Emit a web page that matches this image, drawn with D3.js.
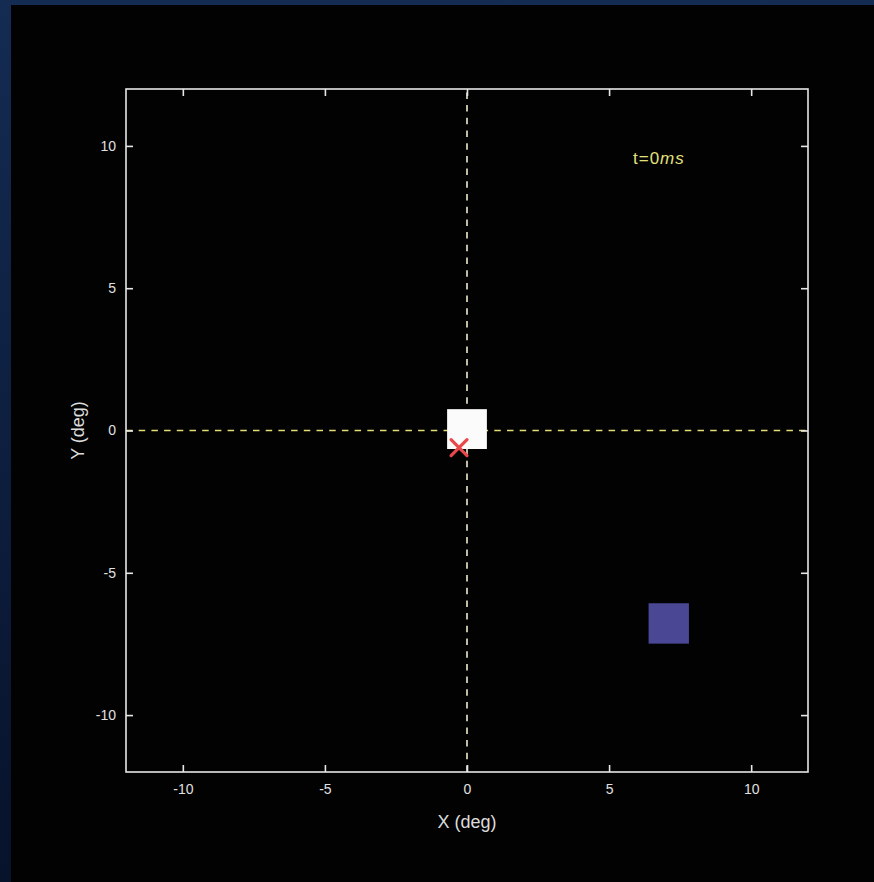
<!DOCTYPE html>
<html>
<head>
<meta charset="utf-8">
<script src="https://cdn.jsdelivr.net/npm/d3@7"></script>
<style>
html,body{margin:0;padding:0;background:#0b1733;}
svg{display:block;}
</style>
</head>
<body>
<svg id="chart" width="874" height="882"></svg>
<script>
// ---- data ----
const xDomain = [-12, 12];
const yDomain = [-12, 12];
const xTicks = [-10, -5, 0, 5, 10];
const yTicks = [-10, -5, 0, 5, 10];
const fixationSquare = [{x: 0, y: 0.05, size: 1.4}];
const targetSquare = [{x: 7.1, y: -6.78, size: 1.42}];
const gazePoints = [{x: -0.28, y: -0.6}];
const timeLabel = ["t=0", "ms"];
const xLabel = "X (deg)";
const yLabel = "Y (deg)";

const svg = d3.select("#chart");
const W = 874, H = 882;

// background gradient + black panel
const defs = svg.append("defs");
const grad = defs.append("linearGradient").attr("id","bg").attr("x1","0").attr("y1","0").attr("x2","0").attr("y2","1");
grad.append("stop").attr("offset","0%").attr("stop-color","#142b52");
grad.append("stop").attr("offset","100%").attr("stop-color","#07122b");
svg.append("rect").attr("width",W).attr("height",H).attr("fill","url(#bg)");
svg.append("rect").attr("x",11).attr("y",5).attr("width",W-11).attr("height",H-5).attr("fill","#020202");

const m = {left:126, top:89, right:808, bottom:772};
const x = d3.scaleLinear().domain(xDomain).range([m.left, m.right]);
const y = d3.scaleLinear().domain(yDomain).range([m.bottom, m.top]);

const axisColor = "#e6e6e6";
const fontFam = "'Liberation Sans', Arial, sans-serif";
const fmt = d => String(d); // plain hyphen minus as in the reference

// dashed crosshair lines
const dashColor = "#e3de74";
svg.append("line").attr("x1",x(xDomain[0])).attr("x2",x(xDomain[1])).attr("y1",y(0)).attr("y2",y(0))
  .attr("stroke",dashColor).attr("stroke-width",1.6).attr("stroke-dasharray","6.5,6.2");
svg.append("line").attr("x1",x(0)).attr("x2",x(0)).attr("y1",y(yDomain[0])).attr("y2",y(yDomain[1]))
  .attr("stroke","#efeccc").attr("stroke-width",1.6).attr("stroke-dasharray","6.5,6.2");

// axes
function styleAxis(g, labels){
  g.select(".domain").remove();
  g.selectAll(".tick line").attr("stroke",axisColor).attr("stroke-width",1.6);
  g.selectAll(".tick text").attr("fill",labels?"#e0e0e0":"none").attr("font-family",fontFam).attr("font-size",14);
}
svg.append("g").attr("transform",`translate(0,${m.bottom})`)
  .call(d3.axisBottom(x).tickValues(xTicks).tickSizeInner(-7).tickSizeOuter(0).tickPadding(12).tickFormat(fmt))
  .call(g=>styleAxis(g,true));
svg.append("g").attr("transform",`translate(0,${m.top})`)
  .call(d3.axisTop(x).tickValues(xTicks).tickSizeInner(-7).tickSizeOuter(0).tickFormat(""))
  .call(g=>styleAxis(g,false));
svg.append("g").attr("transform",`translate(${m.left},0)`)
  .call(d3.axisLeft(y).tickValues(yTicks).tickSizeInner(-7).tickSizeOuter(0).tickPadding(10).tickFormat(fmt))
  .call(g=>styleAxis(g,true));
svg.append("g").attr("transform",`translate(${m.right},0)`)
  .call(d3.axisRight(y).tickValues(yTicks).tickSizeInner(-7).tickSizeOuter(0).tickFormat(""))
  .call(g=>styleAxis(g,false));

// frame
svg.append("rect").attr("x",m.left).attr("y",m.top).attr("width",m.right-m.left).attr("height",m.bottom-m.top)
  .attr("fill","none").attr("stroke",axisColor).attr("stroke-width",1.6);

// fixation square (white)
svg.selectAll(".fix").data(fixationSquare).enter().append("rect")
  .attr("x",d=>x(d.x - d.size/2)).attr("y",d=>y(d.y + d.size/2))
  .attr("width",d=>x(d.size)-x(0)).attr("height",d=>y(0)-y(d.size))
  .attr("fill","#fbfbfb");

// target square (blue)
svg.selectAll(".tgt").data(targetSquare).enter().append("rect")
  .attr("x",d=>x(d.x - d.size/2)).attr("y",d=>y(d.y + d.size/2))
  .attr("width",d=>x(d.size)-x(0)).attr("height",d=>y(0)-y(d.size))
  .attr("fill","#4a4795");

// gaze marker (red x)
const xs = 0.28;
gazePoints.forEach(p=>{
  const g = svg.append("g");
  [[-1,-1,1,1],[-1,1,1,-1]].forEach(c=>{
    g.append("line")
      .attr("x1",x(p.x + c[0]*xs)).attr("y1",y(p.y + c[1]*xs))
      .attr("x2",x(p.x + c[2]*xs)).attr("y2",y(p.y + c[3]*xs))
      .attr("stroke","#e8484a").attr("stroke-width",3.2).attr("stroke-linecap","round");
  });
});

// time label
const tl = svg.append("text").attr("x",633).attr("y",164)
  .attr("font-family",fontFam).attr("font-size",17).attr("letter-spacing",1).attr("fill","#e2e07a");
tl.append("tspan").text(timeLabel[0]);
tl.append("tspan").attr("font-style","italic").text(timeLabel[1]);

// axis labels
svg.append("text").attr("x",x(0)).attr("y",828).attr("text-anchor","middle")
  .attr("font-family",fontFam).attr("font-size",18).attr("fill","#dcdcdc").text(xLabel);
svg.append("text").attr("transform",`translate(84,${y(0)}) rotate(-90)`).attr("text-anchor","middle")
  .attr("font-family",fontFam).attr("font-size",18).attr("fill","#dcdcdc").text(yLabel);
</script>
</body>
</html>
